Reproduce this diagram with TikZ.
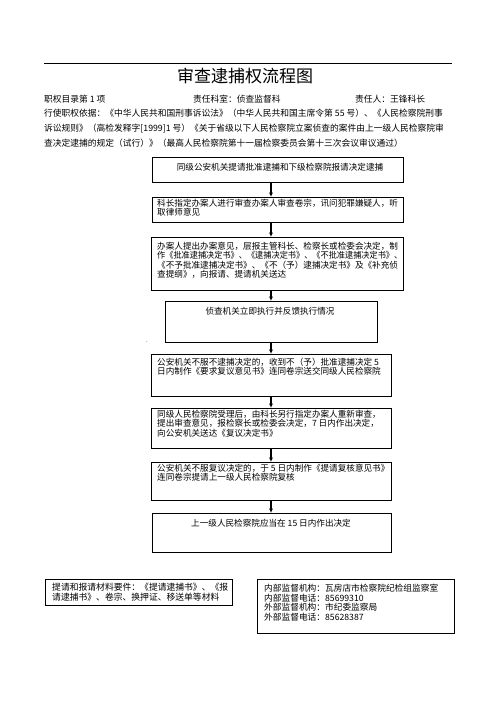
\documentclass[tikz,border=0pt]{standalone}
\usepackage{fontspec}
\usepackage{graphicx}
\setmainfont{Noto Sans CJK SC}
\usetikzlibrary{arrows.meta}
\begin{document}
\begin{tikzpicture}[x=1pt,y=-1pt,
  box/.style={draw, line width=0.9pt, inner sep=0pt, outer sep=0pt, anchor=north west},
  txt/.style={inner sep=0pt, anchor=north west, align=left, font=\fontsize{8.6}{9.5}\selectfont},
  ctxt/.style={inner sep=0pt, font=\fontsize{8.6}{9.5}\selectfont},
  head/.style={inner sep=0pt, anchor=west, font=\fontsize{8.75}{10}\selectfont},
  arr/.style={line width=1.1pt, -{Latex[length=4.5pt,width=4.2pt]}}]
\useasboundingbox (0,0) rectangle (496,702);
\fill[white] (0,0) rectangle (496,702);
% header
\draw[line width=0.8pt] (44,63) -- (452,63);
\node[inner sep=0pt, font=\fontsize{17}{17}\selectfont] (title) at (245,76) {审查逮捕权流程图};
\node[head] (h1) at (44,99) {职权目录第 1 项};
\node[head] (h2) at (193,99) {责任科室：侦查监督科};
\node[head] (h3) at (355,99) {责任人：王锋科长};
\node[head] (h4) at (44,113.5) {行使职权依据：《中华人民共和国刑事诉讼法》（中华人民共和国主席令第 55 号）、《人民检察院刑事};
\node[head] (h5) at (44,128.5) {诉讼规则》（高检发释字[1999]1 号）《关于省级以下人民检察院立案侦查的案件由上一级人民检察院审};
\node[head] (h6) at (44,143.5) {查决定逮捕的规定（试行）》（最高人民检察院第十一届检察委员会第十三次会议审议通过）};
% boxes
\node[box, minimum width=251pt, minimum height=25pt] (b1) at (152,157) {};
\node[box, minimum width=251pt, minimum height=25pt] (b2) at (152,197) {};
\node[box, minimum width=252pt, minimum height=53pt] (b3) at (151,237) {};
\node[box, minimum width=212pt, minimum height=41pt] (b4) at (165,301) {};
\node[box, minimum width=240pt, minimum height=42pt] (b5) at (151,354) {};
\node[box, minimum width=240pt, minimum height=40pt] (b6) at (151,408) {};
\node[box, minimum width=240pt, minimum height=38pt] (b7) at (151,462) {};
\node[box, minimum width=239pt, minimum height=39pt] (b8) at (152,513) {};
\node[box, minimum width=187pt, minimum height=26pt] (b9) at (45,579) {};
\node[box, minimum width=197pt, minimum height=54pt] (b10) at (257,579) {};
% texts
\node[ctxt] (t1) at (280,167) {同级公安机关提请批准逮捕和下级检察院报请决定逮捕};
\node[txt] (t2) at (157,198.7) {科长指定办案人进行审查办案人审查卷宗，讯问犯罪嫌疑人，听\\取律师意见};
\node[txt] (t3) at (157,241.7) {办案人提出办案意见，层报主管科长、检察长或检委会决定，制\\\scalebox{0.95}[1]{作《批准逮捕决定书》、《逮捕决定书》、《不批准逮捕决定书》、}\\《不予批准逮捕决定书》、《不（予）逮捕决定书》及《补充侦\\查提纲》，向报请、提请机关送达};
\node[ctxt] (t4) at (270,311) {侦查机关立即执行并反馈执行情况};
\node[txt] (t5) at (157,357.7) {公安机关不服不逮捕决定的，收到不（予）批准逮捕决定 5\\日内制作《要求复议意见书》连同卷宗送交同级人民检察院};
\node[txt] (t6) at (157,409.7) {同级人民检察院受理后，由科长另行指定办案人重新审查，\\提出审查意见，报检察长或检委会决定，7 日内作出决定，\\向公安机关送达《复议决定书》};
\node[txt] (t7) at (157,463.7) {公安机关不服复议决定的，于 5 日内制作《提请复核意见书》\\连同卷宗提请上一级人民检察院复核};
\node[ctxt] (t8) at (271,523) {上一级人民检察院应当在 15 日内作出决定};
\node[txt, font=\fontsize{8.8}{10}\selectfont] (t9) at (52,582.7) {提请和报请材料要件：《提请逮捕书》、《报\\请逮捕书》、卷宗、换押证、移送单等材料};
\node[txt, font=\fontsize{8.7}{9.7}\selectfont] (t10) at (264,583.7) {内部监督机构：瓦房店市检察院纪检组监察室\\内部监督电话：85699310\\外部监督机构：市纪委监察局\\外部监督电话：85628387};
\node[inner sep=0pt, anchor=base, font=\fontsize{6}{6}\selectfont] (dot) at (147,342) {.};
% arrows
\coordinate (ax) at (271,0);
\draw[arr] (b1.south -| ax) -- (b2.north -| ax);
\draw[arr] (b2.south -| ax) -- (b3.north -| ax);
\draw[arr] (b3.south -| ax) -- (b4.north -| ax);
\draw[arr] (b4.south -| ax) -- (b5.north -| ax);
\draw[arr] (b5.south -| ax) -- (b6.north -| ax);
\draw[arr] (b6.south -| ax) -- (b7.north -| ax);
\draw[arr] (b7.south -| ax) -- (b8.north -| ax);
\end{tikzpicture}
\end{document}
